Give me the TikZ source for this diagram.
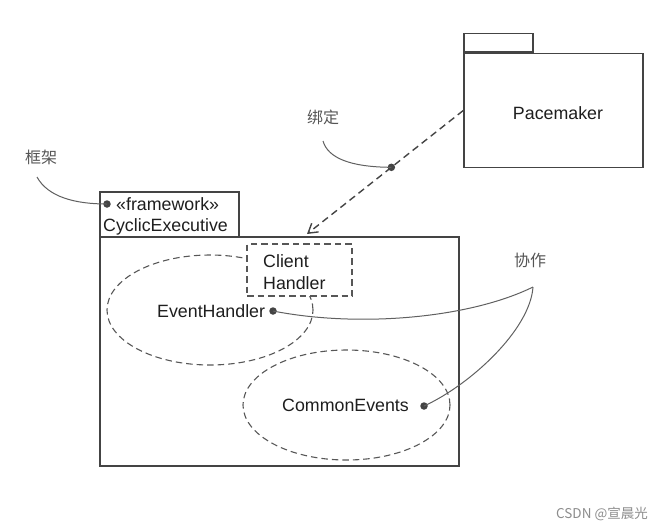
\documentclass[tikz,border=0pt]{standalone}
\usepackage{fontspec}
\setmainfont{Liberation Sans}
\newfontfamily\cjk{Noto Sans CJK SC}
\usetikzlibrary{shapes.geometric,arrows.meta}
\definecolor{ln}{HTML}{444444}
\definecolor{tx}{HTML}{1E1E1E}
\definecolor{lb}{HTML}{555555}
\tikzset{
  box/.style={draw=ln,line width=1.5pt,inner sep=0pt},
  dbox/.style={draw=ln!90,line width=1.1pt,dash pattern=on 6.5pt off 4pt,inner sep=0pt},
  txt/.style={inner sep=0pt,text=tx,font=\fontsize{17.8}{22}\selectfont},
  cn/.style={inner sep=0pt,text=lb,font=\cjk\fontsize{16}{18}\selectfont},
  note/.style={draw=ln!85,line width=1pt},
  dot/.style={circle,fill=ln,inner sep=0pt,minimum size=7.5pt}
}
\begin{document}
\begin{tikzpicture}[x=1pt,y=-1pt]
\useasboundingbox (0,0) rectangle (666,531);
% Pacemaker package
\node[box,minimum width=179pt,minimum height=114pt] (pace) at (553.5,110.5) {};
\node[box,minimum width=69pt,minimum height=18.5pt,anchor=south west] (tab) at (pace.north west) {};
\node[txt] (pacetext) at (558,113) {Pacemaker};
% framework box
\node[box,minimum width=139pt,minimum height=45pt,anchor=north west] (fwtitle) at (99,191) {};
\node[box,minimum width=359pt,minimum height=229pt,anchor=north west] (main) at (99,236) {};
\node[txt,anchor=west] (fwst) at (116,204) {«framework»};
\node[txt,anchor=west] (fwname) at (103,227) {CyclicExecutive};
% ellipses
\node[dbox,ellipse,minimum width=206pt,minimum height=110pt] (eh) at (210,310) {};
\node[dbox,ellipse,minimum width=207pt,minimum height=110pt] (ce) at (346.5,405) {};
% client handler
\node[dbox,fill=white,minimum width=105pt,minimum height=52pt] (ch) at (299.5,270) {};
\node[txt,anchor=west] (cl1) at (263,261) {Client};
\node[txt,anchor=west] (cl2) at (263,283) {Handler};
\node[txt,anchor=west] (ehtext) at (157,311) {EventHandler};
\node[txt,anchor=west] (cetext) at (282,405) {CommonEvents};
\node[dot] (ehdot) at (273,311) {};
\node[dot] (cedot) at (424,406) {};
% binding arrow
\coordinate (tip) at (307,234);
\draw[ln,line width=1.4pt,dash pattern=on 7pt off 4.5pt,-{Straight Barb[length=9pt,width=11pt]}] (pace.west) -- coordinate[pos=0.46] (bd) (tip);
\node[dot] (bddot) at (bd) {};
% labels
\node[cn] (bindlbl) at (323,117) {绑定};
\node[cn] (fwlbl) at (41,157) {框架};
\node[cn] (colllbl) at (530,260) {协作};
\coordinate (bs) at (323,141);
\coordinate (fs) at (37,177);
\coordinate (cs) at (533,287);
\node[dot] (fwdot) at (107,204) {};
\draw[note] (bs) .. controls (328,158) and (350,167) .. (bddot.center);
\draw[note] (fs) .. controls (48,197) and (75,204) .. (fwdot.center);
\draw[note] (ehdot.center) .. controls (360,328) and (470,318) .. (cs);
\draw[note] (cedot.center) .. controls (470,385) and (530,330) .. (cs);
% watermark
\node[inner sep=0pt,text=black!45,font=\cjk\fontsize{13.5}{15}\selectfont] (wm) at (602,514) {CSDN @宣晨光};
\end{tikzpicture}
\end{document}
